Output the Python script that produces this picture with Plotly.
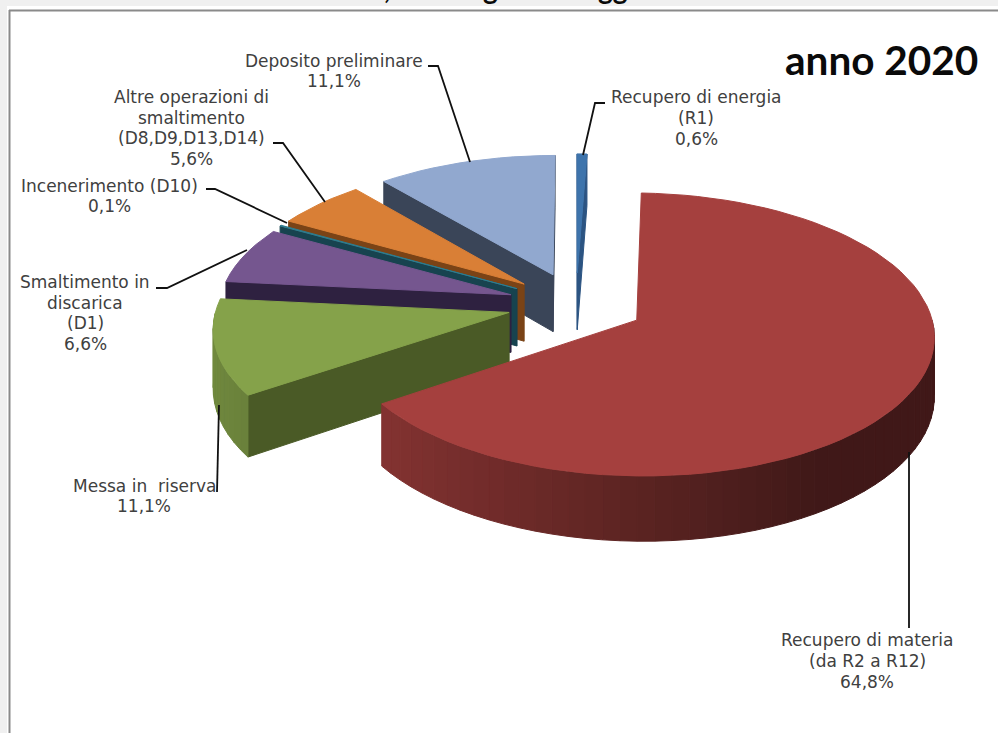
import math
import plotly.graph_objects as go

# ---- data ----
categories = ["Recupero di energia (R1)", "Recupero di materia (da R2 a R12)", "Messa in riserva",
              "Smaltimento in discarica (D1)", "Incenerimento (D10)",
              "Altre operazioni di smaltimento (D8,D9,D13,D14)", "Deposito preliminare"]
values = [0.6, 64.8, 11.1, 6.6, 0.1, 5.6, 11.1]
label_lines = [["Recupero di energia", "(R1)", "0,6%"],
               ["Recupero di materia", "(da R2 a R12)", "64,8%"],
               ["Messa in  riserva", "11,1%"],
               ["Smaltimento in", "discarica", "(D1)", "6,6%"],
               ["Incenerimento (D10)", "0,1%"],
               ["Altre operazioni di", "smaltimento", "(D8,D9,D13,D14)", "5,6%"],
               ["Deposito preliminare", "11,1%"]]
title_text = "anno 2020"
cropped_title_parts = [",", "g", "gg"]

# ---- styles and layout ----
top_colors = ["#3E74AC", "#A5403E", "#85A24A", "#75568F", "#2F7C8E", "#D97F36", "#91A8CF"]
wall_colors = ["#2C5482", "#5A2220", "#4A5A26", "#2E2140", "#17434F", "#7A4316", "#3A4558"]
label_pos = [(696, 118), (867, 661), (144, 496), (85, 313), (109, 196), (191, 128), (334, 71)]
cropped_pos = [387, 490, 613]
leaders = [[(605, 103), (595, 103), (583, 155)],
           [(909, 628), (909, 452)],
           [(217, 492), (219, 405)],
           [(156, 288), (167, 288), (247, 250)],
           [(206, 189), (215, 189), (287, 223)],
           [(273, 143), (283, 143), (325, 202)],
           [(428, 66), (438, 66), (470, 162)]]
X0, Y0, RX, RY, K, DEPTH, PULL = 576, 304.4, 292, 136.9, 0.1, 58, 0.235
LINE_STEP = 20.7


def proj(u, v, z=0.0):
    w = 1 + K * v
    return X0 + RX * u / w, Y0 - RY * v / w + DEPTH * z / w


def shade(hex_color, f):
    r, g, b = int(hex_color[1:3], 16), int(hex_color[3:5], 16), int(hex_color[5:7], 16)
    return f"rgb({int(r*f)},{int(g*f)},{int(b*f)})"


fig = go.Figure()


def poly(points, color):
    xs = [p[0] for p in points] + [points[0][0]]
    ys = [p[1] for p in points] + [points[0][1]]
    fig.add_trace(go.Scatter(x=xs, y=ys, mode="lines", fill="toself", fillcolor=color,
                             line=dict(color=color, width=1), hoverinfo="skip", showlegend=False))


total = sum(values)
spans, start = [], 0.0
for val in values:
    spans.append((start, start + val / total * 2 * math.pi))
    start = spans[-1][1]

# painter's order: back slices first
order = [6, 0, 5, 4, 3, 2, 1]
for i in order:
    a0, a1 = spans[i]
    am = (a0 + a1) / 2
    cu, cv = PULL * math.sin(am), PULL * math.cos(am)
    n = max(2, int((a1 - a0) / math.radians(3)))
    angs = [a0 + (a1 - a0) * j / n for j in range(n + 1)]
    rim = [(cu + math.sin(a), cv + math.cos(a)) for a in angs]
    # radial walls that face the viewer
    for a, pt, normal in ((a1, rim[-1], a1 + math.pi / 2), (a0, rim[0], a0 - math.pi / 2)):
        if math.cos(normal) < 0.01:
            poly([proj(cu, cv), proj(*pt), proj(*pt, 1), proj(cu, cv, 1)], wall_colors[i])
    # outer wall, strip by strip, front half only
    for j in range(n):
        mid = (angs[j] + angs[j + 1]) / 2
        if math.cos(mid) < 0.0:
            f = max(0.39, 0.55 - 0.3 * math.sin(mid))
            poly([proj(*rim[j]), proj(*rim[j + 1]), proj(*rim[j + 1], 1), proj(*rim[j], 1)],
                 shade(top_colors[i], f))
    # top
    poly([proj(cu, cv)] + [proj(*p) for p in rim], top_colors[i])

shapes = [
    dict(type="rect", x0=0, x1=998, y0=0, y1=6, fillcolor="#F0F0F0", line_width=0, layer="below"),
    dict(type="rect", x0=0, x1=7, y0=0, y1=733, fillcolor="#F0F0F0", line_width=0, layer="below"),
    dict(type="line", x0=9, x1=998, y0=10.5, y1=10.5, line=dict(color="#8A8A8A", width=2)),
    dict(type="line", x0=9.5, x1=9.5, y0=10, y1=733, line=dict(color="#8A8A8A", width=2)),
]
for path in leaders:
    d = "M " + " L ".join(f"{x},{y}" for x, y in path)
    shapes.append(dict(type="path", path=d, line=dict(color="#111111", width=1.8)))

annotations = []
for lines, (x, y) in zip(label_lines, label_pos):
    for j, line in enumerate(lines):
        annotations.append(dict(x=x, y=y + (j - (len(lines) - 1) / 2) * LINE_STEP, text=line,
                                showarrow=False, xanchor="center", yanchor="middle",
                                font=dict(family="DejaVu Sans", size=17, color="#404040")))
annotations.append(dict(x=881.5, y=59, text=f"<b>{title_text}</b>", showarrow=False, xanchor="center",
                        yanchor="middle", font=dict(family="Lato", size=40.5, color="#0A0A0A")))
for part, x in zip(cropped_title_parts, cropped_pos):
    annotations.append(dict(x=x, y=5, text=f"<b>{part}</b>", showarrow=False, xanchor="center",
                            yanchor="bottom", borderpad=0, borderwidth=0,
                            font=dict(family="Lato", size=28, color="#0A0A0A")))

fig.update_layout(
    width=998, height=733, margin=dict(l=0, r=0, t=0, b=0), autosize=False,
    paper_bgcolor="white", plot_bgcolor="white", showlegend=False,
    xaxis=dict(range=[0, 998], visible=False, fixedrange=True),
    yaxis=dict(range=[733, 0], visible=False, fixedrange=True),
    shapes=shapes, annotations=annotations,
)
fig.write_html("out.html", config=dict(displayModeBar=False),
               post_script="document.body.style.margin='0';document.documentElement.style.overflow='hidden';")
